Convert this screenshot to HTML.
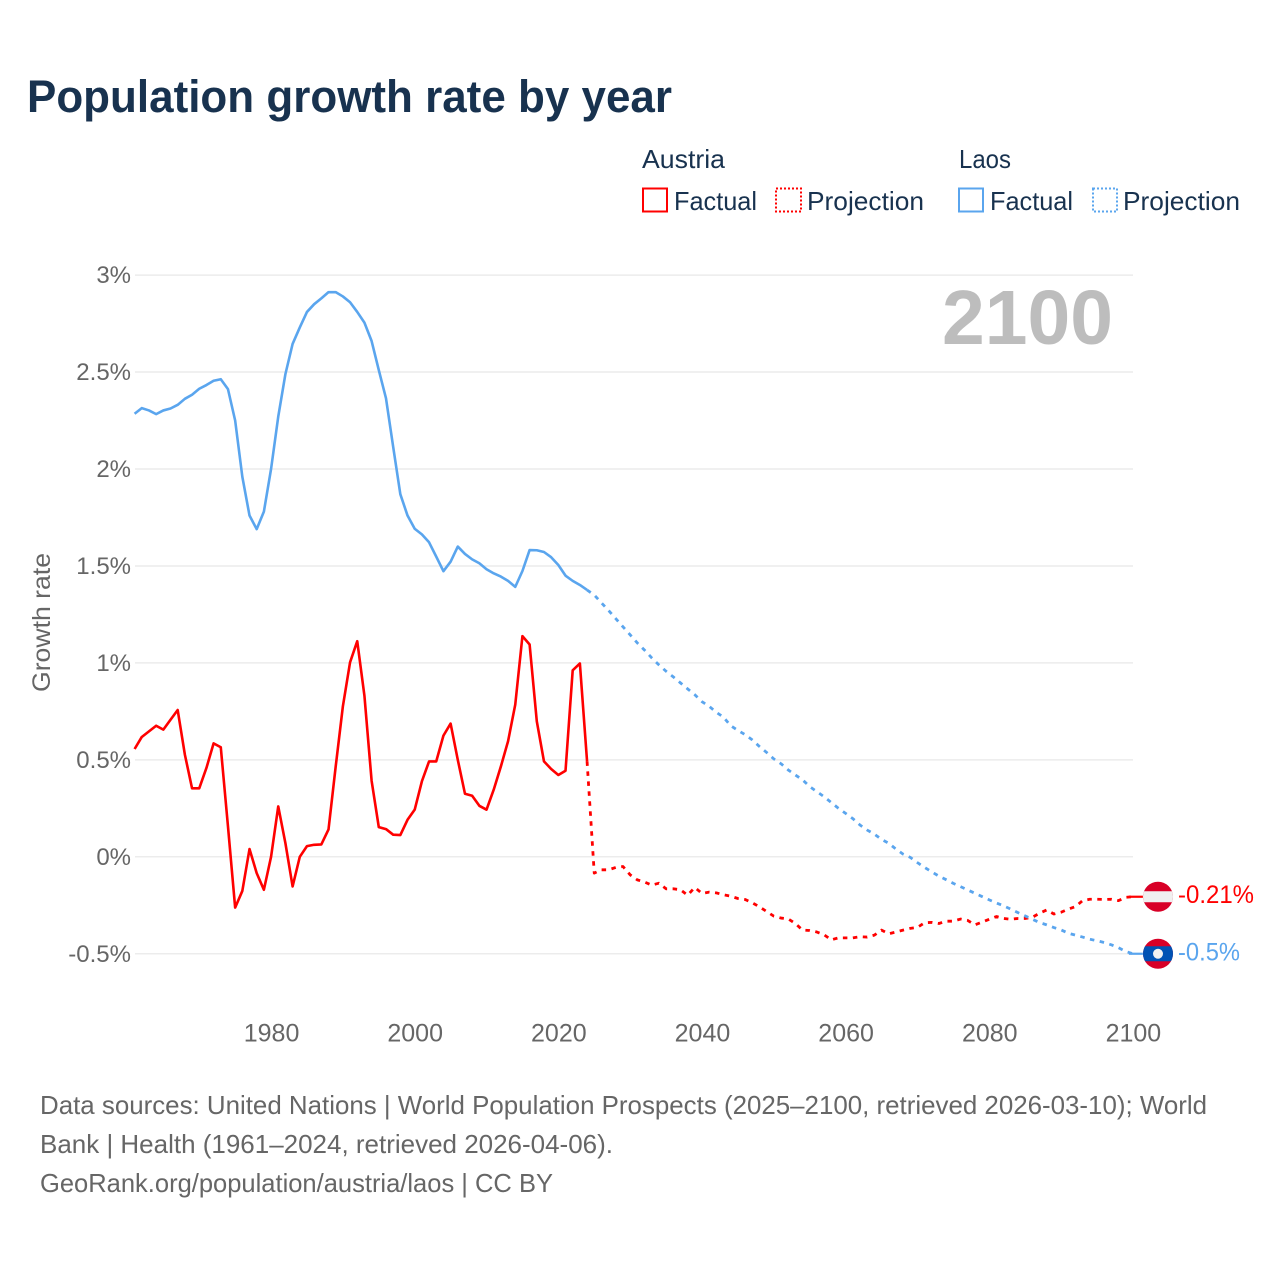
<!DOCTYPE html>
<html lang="en">
<head>
<meta charset="utf-8">
<title>Population growth rate by year</title>
<style>
html,body{margin:0;padding:0;background:#fff;}
svg{display:block;font-family:"Liberation Sans",sans-serif;}
</style>
</head>
<body>
<svg id="chart" xmlns="http://www.w3.org/2000/svg" width="1280" height="1280" viewBox="0 0 1280 1280">
  <rect x="0" y="0" width="1280" height="1280" fill="#ffffff"/>
  <text x="27" y="112" font-size="45" font-weight="700" fill="#18324f" textLength="645" lengthAdjust="spacingAndGlyphs">Population growth rate by year</text>

  <g font-size="26" fill="#18324f">
    <text x="642" y="168" textLength="83" lengthAdjust="spacingAndGlyphs">Austria</text>
    <rect x="643" y="188.500" width="24" height="23" fill="none" stroke="#ff0000" stroke-width="2"/>
    <text x="674" y="210" textLength="83" lengthAdjust="spacingAndGlyphs">Factual</text>
    <rect x="776" y="188.500" width="25" height="23" fill="none" stroke="#ff0000" stroke-width="2" stroke-dasharray="2 2"/>
    <text x="807" y="210" textLength="117" lengthAdjust="spacingAndGlyphs">Projection</text>
    <text x="959" y="168" textLength="52" lengthAdjust="spacingAndGlyphs">Laos</text>
    <rect x="959" y="188.500" width="24" height="23" fill="none" stroke="#5aa5ee" stroke-width="2"/>
    <text x="990" y="210" textLength="83" lengthAdjust="spacingAndGlyphs">Factual</text>
    <rect x="1093" y="188.500" width="24" height="23" fill="none" stroke="#5aa5ee" stroke-width="2" stroke-dasharray="2 2"/>
    <text x="1123" y="210" textLength="117" lengthAdjust="spacingAndGlyphs">Projection</text>
  </g>

  <g id="grid"></g>
  <g id="y-ticks"></g>
  <g id="x-ticks"></g>
  <text transform="translate(50 622.500) rotate(-90)" text-anchor="middle" font-size="25" fill="#666666" textLength="139" lengthAdjust="spacingAndGlyphs">Growth rate</text>
  <text x="942" y="344" font-size="77" font-weight="700" fill="#bdbdbd" textLength="171" lengthAdjust="spacingAndGlyphs">2100</text>

  <g id="series"></g>
  <g id="endpoints"></g>

  <g font-size="26" fill="#666666">
    <text x="40" y="1114" textLength="1167" lengthAdjust="spacingAndGlyphs">Data sources: United Nations | World Population Prospects (2025–2100, retrieved 2026-03-10); World</text>
    <text x="40" y="1153" textLength="573" lengthAdjust="spacingAndGlyphs">Bank | Health (1961–2024, retrieved 2026-04-06).</text>
    <text x="40" y="1192" textLength="513" lengthAdjust="spacingAndGlyphs">GeoRank.org/population/austria/laos | CC BY</text>
  </g>
</svg>
<script>
const factualYears = [1961,1962,1963,1964,1965,1966,1967,1968,1969,1970,1971,1972,1973,1974,1975,1976,1977,1978,1979,1980,1981,1982,1983,1984,1985,1986,1987,1988,1989,1990,1991,1992,1993,1994,1995,1996,1997,1998,1999,2000,2001,2002,2003,2004,2005,2006,2007,2008,2009,2010,2011,2012,2013,2014,2015,2016,2017,2018,2019,2020,2021,2022,2023,2024];
const projectionYears = [2025,2026,2027,2028,2029,2030,2031,2032,2033,2034,2035,2036,2037,2038,2039,2040,2041,2042,2043,2044,2045,2046,2047,2048,2049,2050,2051,2052,2053,2054,2055,2056,2057,2058,2059,2060,2061,2062,2063,2064,2065,2066,2067,2068,2069,2070,2071,2072,2073,2074,2075,2076,2077,2078,2079,2080,2081,2082,2083,2084,2085,2086,2087,2088,2089,2090,2091,2092,2093,2094,2095,2096,2097,2098,2099,2100];
const austriaFactual = [0.556,0.618,0.647,0.676,0.656,0.707,0.757,0.527,0.353,0.353,0.458,0.585,0.565,0.157,-0.262,-0.176,0.04,-0.084,-0.17,0,0.26,0.07,-0.153,0,0.055,0.062,0.064,0.141,0.466,0.776,1.003,1.112,0.831,0.392,0.153,0.143,0.114,0.112,0.191,0.243,0.389,0.492,0.492,0.625,0.687,0.5,0.325,0.315,0.263,0.243,0.346,0.466,0.596,0.785,1.138,1.095,0.699,0.492,0.453,0.422,0.444,0.962,0.997,0.492];
const austriaProjection = [-0.084,-0.067,-0.067,-0.055,-0.05,-0.093,-0.119,-0.13,-0.146,-0.136,-0.165,-0.165,-0.17,-0.198,-0.158,-0.189,-0.182,-0.186,-0.196,-0.203,-0.215,-0.22,-0.237,-0.258,-0.282,-0.306,-0.316,-0.32,-0.344,-0.378,-0.38,-0.388,-0.402,-0.428,-0.418,-0.418,-0.418,-0.412,-0.414,-0.404,-0.378,-0.397,-0.388,-0.378,-0.369,-0.364,-0.34,-0.338,-0.344,-0.332,-0.332,-0.321,-0.328,-0.351,-0.337,-0.322,-0.308,-0.318,-0.322,-0.318,-0.318,-0.312,-0.291,-0.274,-0.295,-0.286,-0.27,-0.257,-0.226,-0.219,-0.219,-0.22,-0.219,-0.226,-0.209,-0.206];
const laosFactual = [2.285,2.314,2.302,2.283,2.302,2.312,2.331,2.362,2.383,2.414,2.433,2.455,2.463,2.412,2.25,1.96,1.76,1.69,1.78,2.0,2.27,2.49,2.645,2.73,2.81,2.85,2.88,2.912,2.912,2.89,2.86,2.81,2.755,2.66,2.51,2.365,2.115,1.87,1.76,1.692,1.663,1.622,1.548,1.473,1.522,1.6,1.562,1.534,1.514,1.483,1.462,1.445,1.423,1.392,1.474,1.582,1.581,1.572,1.545,1.505,1.45,1.423,1.402,1.376];
const laosProjection = [1.35,1.31,1.27,1.228,1.186,1.145,1.103,1.066,1.026,0.99,0.957,0.928,0.897,0.866,0.836,0.8,0.776,0.745,0.72,0.676,0.652,0.63,0.603,0.569,0.538,0.505,0.48,0.448,0.422,0.397,0.362,0.336,0.31,0.28,0.25,0.224,0.197,0.164,0.138,0.117,0.09,0.07,0.04,0.014,-0.003,-0.03,-0.055,-0.078,-0.1,-0.118,-0.137,-0.154,-0.171,-0.188,-0.205,-0.222,-0.238,-0.253,-0.27,-0.288,-0.305,-0.322,-0.339,-0.351,-0.365,-0.377,-0.394,-0.404,-0.414,-0.425,-0.433,-0.442,-0.454,-0.469,-0.488,-0.5];
const yTickValues = [-0.5,0,0.5,1,1.5,2,2.5,3];
const yTickLabels = ["-0.5%","0%","0.5%","1%","1.5%","2%","2.5%","3%"];
const xTickValues = [1980,2000,2020,2040,2060,2080,2100];
const austriaEndLabel = "-0.21%";
const laosEndLabel = "-0.5%";

const NS = "http://www.w3.org/2000/svg";
const RED = "#ff0000";
const BLUE = "#5aa5ee";
function xScale(year){ return 134.6 + (year - 1961) * 7.182; }
function yScale(value){ return 856.8 - value * 193.9; }
function make(tag, parent, attrs){
  const el = document.createElementNS(NS, tag);
  for (const k in attrs) el.setAttribute(k, attrs[k]);
  parent.appendChild(el);
  return el;
}
function pathFrom(years, values){
  return years.map(function(yr, i){
    return (i ? "L" : "M") + xScale(yr).toFixed(2) + " " + yScale(values[i]).toFixed(2);
  }).join(" ");
}

const grid = document.getElementById("grid");
const yTicks = document.getElementById("y-ticks");
yTickValues.forEach(function(v, i){
  const line = make("line", grid, {x1: 135, x2: 1133, y1: yScale(v), y2: yScale(v), stroke: "#ececec", "stroke-width": 1.5});
  
  
  const t = make("text", yTicks, {x: 131, y: yScale(v) + 8, "text-anchor": "end", "font-size": 24, fill: "#666666"});
  
  
  t.textContent = yTickLabels[i];
});

const xTicks = document.getElementById("x-ticks");
xTickValues.forEach(function(yr){
  const t = make("text", xTicks, {x: xScale(yr) + 0.5, y: 1041.500, "text-anchor": "middle", "font-size": 25, fill: "#666666"});
  
  
  t.textContent = yr;
});

const series = document.getElementById("series");
function drawSeries(name, color, factual, projection){
  const lastYear = factualYears[factualYears.length - 1];
  const lastValue = factual[factual.length - 1];
  const projPath = pathFrom([lastYear].concat(projectionYears), [lastValue].concat(projection));
  const dashed = make("path", series, {d: projPath, fill: "none", stroke: color, "stroke-width": 2.8, "stroke-dasharray": "4.500 5.500", "stroke-linejoin": "round"});
  
  
  const solid = make("path", series, {d: pathFrom(factualYears, factual), fill: "none", stroke: color, "stroke-width": 2.6, "stroke-linejoin": "round"});
  
  
  const endY = yScale(projection[projection.length - 1]);
  const endX = xScale(projectionYears[projectionYears.length - 1]);
  const lead = make("line", series, {x1: endX - 4, x2: endX + 10, y1: endY, y2: endY, stroke: color, "stroke-width": 2.2});
  
  
}
drawSeries("austria", RED, austriaFactual, austriaProjection);
drawSeries("laos", BLUE, laosFactual, laosProjection);

const endpoints = document.getElementById("endpoints");
function drawFlag(name, centerY, bandColor, bandHalf, hasDisc){
  const cx = 1158;
  const g = make("g", endpoints, {});
  
  
  const disc = make("circle", g, {cx: cx, cy: centerY, r: 15, fill: "#d80027"});
  
  
  const clipId = name + "-clip";
  const clip = make("clipPath", g, {id: clipId});
  make("circle", clip, {cx: cx, cy: centerY, r: 15});
  const band = make("rect", g, {x: cx - 15, y: centerY - bandHalf, width: 30, height: bandHalf * 2, fill: bandColor, "clip-path": "url(#" + clipId + ")"});
  
  
  if (hasDisc) {
    const dot = make("circle", g, {cx: cx, cy: centerY, r: 5, fill: "#f0f0f0"});
    
    
  }
}
function drawEndLabel(name, centerY, text, color, width){
  const t = make("text", endpoints, {x: 1178, y: centerY + 6.500, "font-size": 25, fill: color, textLength: width, lengthAdjust: "spacingAndGlyphs"});
  
  
  t.textContent = text;
}
const austriaEndY = yScale(austriaProjection[austriaProjection.length - 1]);
const laosEndY = yScale(laosProjection[laosProjection.length - 1]);
drawFlag("austria", austriaEndY, "#f0f0f0", 5.500, false);
drawFlag("laos", laosEndY, "#0052b4", 7.500, true);
drawEndLabel("austria", austriaEndY, austriaEndLabel, RED, 76);
drawEndLabel("laos", laosEndY, laosEndLabel, BLUE, 62);
</script>
</body>
</html>
